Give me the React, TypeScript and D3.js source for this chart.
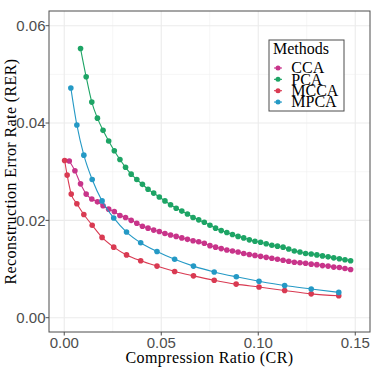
import React from "react";
import * as d3 from "d3";

const ccaX = [0.0026,0.0055,0.0084,0.0113,0.0142,0.0171,0.0200,0.0229,0.0258,0.0287,0.0316,0.0345,0.0374,0.0403,0.0432,0.0461,0.0490,0.0519,0.0548,0.0577,0.0606,0.0635,0.0664,0.0693,0.0722,0.0751,0.0780,0.0809,0.0838,0.0867,0.0896,0.0925,0.0954,0.0983,0.1012,0.1041,0.1070,0.1099,0.1128,0.1157,0.1186,0.1215,0.1244,0.1273,0.1302,0.1331,0.1360,0.1389,0.1418,0.1447,0.1476];
const ccaY = [0.0322,0.0302,0.0275,0.0254,0.0244,0.0238,0.0230,0.0223,0.0218,0.0210,0.0206,0.0200,0.0194,0.0188,0.0184,0.0180,0.0177,0.0173,0.0170,0.0167,0.0164,0.0161,0.0158,0.0156,0.0153,0.0148,0.0145,0.0142,0.0139,0.0137,0.0135,0.0132,0.0130,0.0128,0.0126,0.0124,0.0122,0.0120,0.0118,0.0116,0.0114,0.0113,0.0112,0.0110,0.0109,0.0107,0.0106,0.0104,0.0103,0.0101,0.0099];

const pcaX = [0.0084,0.0113,0.0142,0.0171,0.0200,0.0229,0.0258,0.0287,0.0316,0.0345,0.0374,0.0403,0.0432,0.0461,0.0490,0.0519,0.0548,0.0577,0.0606,0.0635,0.0664,0.0693,0.0722,0.0751,0.0780,0.0809,0.0838,0.0867,0.0896,0.0925,0.0954,0.0983,0.1012,0.1041,0.1070,0.1099,0.1128,0.1157,0.1186,0.1215,0.1244,0.1273,0.1302,0.1331,0.1360,0.1389,0.1418,0.1447,0.1476];
const pcaY = [0.0553,0.0495,0.0443,0.0410,0.0385,0.0363,0.0343,0.0325,0.0309,0.0295,0.0284,0.0274,0.0264,0.0256,0.0248,0.0240,0.0232,0.0225,0.0219,0.0213,0.0206,0.0201,0.0196,0.0190,0.0184,0.0179,0.0175,0.0171,0.0167,0.0164,0.0160,0.0157,0.0155,0.0152,0.0149,0.0147,0.0145,0.0141,0.0137,0.0135,0.0132,0.0131,0.0129,0.0127,0.0125,0.0123,0.0121,0.0119,0.0117];

const mccaX = [0.0002,0.0015,0.0036,0.0065,0.0101,0.0144,0.0195,0.0255,0.0321,0.0394,0.0478,0.0569,0.0666,0.0773,0.0886,0.1004,0.1136,0.1273,0.1415];
const mccaY = [0.0323,0.0293,0.0254,0.0234,0.0212,0.0190,0.0165,0.0145,0.0129,0.0117,0.0106,0.0095,0.0086,0.0077,0.0069,0.0063,0.0056,0.0049,0.0045];

const mpcaX = [0.0034,0.0065,0.0101,0.0144,0.0195,0.0255,0.0321,0.0394,0.0478,0.0569,0.0666,0.0773,0.0887,0.1004,0.1136,0.1273,0.1415];
const mpcaY = [0.0472,0.0396,0.0334,0.0284,0.0240,0.0205,0.0176,0.0154,0.0136,0.0120,0.0106,0.0094,0.0084,0.0075,0.0066,0.0059,0.0052];

const methods = ["CCA", "PCA", "MCCA", "MPCA"];
const colors = ["#C8348A", "#1DA465", "#D93A52", "#2499C5"];

const xMajor = [0, 0.05, 0.1, 0.15];
const xMinor = [0.025, 0.075, 0.125];
const yMajor = [0, 0.02, 0.04, 0.06];
const yMinor = [0.01, 0.03, 0.05];
const xTickLabels = ["0.00", "0.05", "0.10", "0.15"];
const yTickLabels = ["0.00", "0.02", "0.04", "0.06"];

export default function App() {
  const W = 374, H = 374;
  const left = 49, right = 370, top = 11, bottom = 332;
  const x = d3.scaleLinear().domain([-0.00786, 0.1576]).range([left, right]);
  const y = d3.scaleLinear().domain([-0.00294, 0.06302]).range([bottom, top]);

  const series = [
    { xs: ccaX, ys: ccaY },
    { xs: pcaX, ys: pcaY },
    { xs: mccaX, ys: mccaY },
    { xs: mpcaX, ys: mpcaY },
  ];
  const line = d3
    .line<[number, number]>()
    .x((d) => x(d[0]))
    .y((d) => y(d[1]))
    .curve(d3.curveMonotoneX);

  const serif = "'Liberation Serif', 'Times New Roman', serif";
  const sans = "'Liberation Sans', Arial, sans-serif";

  return (
    <svg
      width={W}
      height={H}
      style={{ position: "fixed", left: 0, top: 0, background: "#fff" }}
    >
      <rect x={0} y={0} width={W} height={H} fill="#fff" />
      {/* grid */}
      {xMinor.map((v) => (
        <line key={"xm" + v} x1={x(v)} x2={x(v)} y1={top} y2={bottom} stroke="#f0f0f0" strokeWidth={0.6} />
      ))}
      {yMinor.map((v) => (
        <line key={"ym" + v} x1={left} x2={right} y1={y(v)} y2={y(v)} stroke="#f0f0f0" strokeWidth={0.6} />
      ))}
      {xMajor.map((v) => (
        <line key={"xM" + v} x1={x(v)} x2={x(v)} y1={top} y2={bottom} stroke="#ebebeb" strokeWidth={1.1} />
      ))}
      {yMajor.map((v) => (
        <line key={"yM" + v} x1={left} x2={right} y1={y(v)} y2={y(v)} stroke="#ebebeb" strokeWidth={1.1} />
      ))}

      {/* series */}
      {series.map((s, i) => {
        const pts = s.xs.map((xv, j) => [xv, s.ys[j]] as [number, number]);
        return (
          <g key={methods[i]}>
            <path d={line(pts) || ""} fill="none" stroke={colors[i]} strokeWidth={1.1} />
            {pts.map((p, j) => (
              <circle key={j} cx={x(p[0])} cy={y(p[1])} r={2.8} fill={colors[i]} />
            ))}
          </g>
        );
      })}

      {/* border */}
      <rect x={left} y={top} width={right - left} height={bottom - top} fill="none" stroke="#4d4d4d" strokeWidth={1} />

      {/* axes ticks */}
      {xMajor.map((v, i) => (
        <g key={"xt" + v}>
          <line x1={x(v)} x2={x(v)} y1={bottom} y2={bottom + 3.5} stroke="#4d4d4d" strokeWidth={1} />
          <text x={x(v)} y={347.5} textAnchor="middle" fontFamily={sans} fontSize={15} fill="#4d4d4d">
            {xTickLabels[i]}
          </text>
        </g>
      ))}
      {yMajor.map((v, i) => (
        <g key={"yt" + v}>
          <line x1={left - 3.5} x2={left} y1={y(v)} y2={y(v)} stroke="#4d4d4d" strokeWidth={1} />
          <text x={45.5} y={y(v)} dy="0.36em" textAnchor="end" fontFamily={sans} fontSize={15} fill="#4d4d4d">
            {yTickLabels[i]}
          </text>
        </g>
      ))}

      {/* axis titles */}
      <text x={(left + right) / 2} y={362.5} textAnchor="middle" fontFamily={serif} fontSize={16} letterSpacing={0.4} fill="#000">
        Compression Ratio (CR)
      </text>
      <text
        transform={`translate(15.5, ${(top + bottom) / 2}) rotate(-90)`}
        textAnchor="middle"
        fontFamily={serif}
        fontSize={16}
        letterSpacing={0.4}
        fill="#000"
      >
        Reconstruction Error Rate (RER)
      </text>

      {/* legend */}
      <rect x={269} y={40} width={75} height={71} fill="#fff" stroke="#4d4d4d" strokeWidth={1} />
      <text x={273} y={54.3} fontFamily={serif} fontSize={16} fill="#000">
        Methods
      </text>
      {methods.map((m, i) => {
        const by = 73.3 + i * 11.35;
        return (
          <g key={"lg" + m}>
            <line x1={274} x2={282} y1={by - 5.3} y2={by - 5.3} stroke={colors[i]} strokeWidth={1.1} />
            <circle cx={278} cy={by - 5.3} r={2.5} fill={colors[i]} />
            <text x={291.3} y={by} fontFamily={serif} fontSize={16} fill="#000">
              {m}
            </text>
          </g>
        );
      })}
    </svg>
  );
}
